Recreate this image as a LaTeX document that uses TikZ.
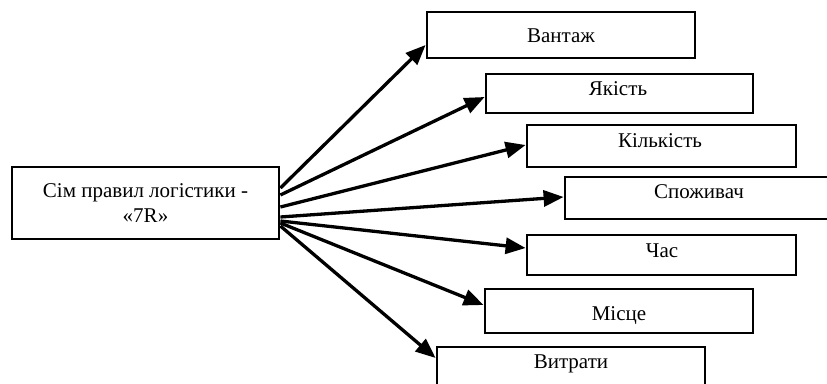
\documentclass[tikz,border=0pt]{standalone}
\usepackage{fontspec}
\setmainfont{Liberation Serif}
\usetikzlibrary{arrows.meta}
\begin{document}
\begin{tikzpicture}[x=1pt,y=-1pt,
  box/.style={draw, line width=2.8pt, rectangle, inner sep=0pt, minimum width=268pt},
  lbl/.style={anchor=base, inner sep=0pt, font=\fontsize{21}{25}\selectfont},
  link/.style={line width=3.3pt, -{Triangle[length=20pt,width=16pt]}}]
\useasboundingbox (0,0) rectangle (827,383);

% source box
\node[box, minimum width=267pt, minimum height=72pt, align=center,
      font=\fontsize{21}{25}\selectfont] (src) at (145.5,203)
      {Сім правил логістики -\\«7R»};

% target boxes
\node[box, minimum height=46pt] (b1) at (561,35) {};
\node[box, minimum width=267pt, minimum height=39pt] (b2) at (619.5,93.5) {};
\node[box, minimum width=269pt, minimum height=42pt] (b3) at (661.5,146) {};
\node[box, minimum height=42pt] (b4) at (699,198) {};
\node[box, minimum width=269pt, minimum height=40pt] (b5) at (661.5,255) {};
\node[box, minimum height=44pt] (b6) at (619,311) {};
\node[box, minimum height=44pt] (b7) at (571,369) {};

% labels
\node[lbl] (t1) at (561,42) {Вантаж};
\node[lbl] (t2) at (618,95) {Якість};
\node[lbl] (t3) at (660,147) {Кількість};
\node[lbl] (t4) at (699,198) {Споживач};
\node[lbl] (t5) at (662,257) {Час};
\node[lbl] (t6) at (619,320) {Місце};
\node[lbl] (t7) at (571,368) {Витрати};

% connectors
\draw[link] ([yshift=15pt]src.east) -- ([yshift=-10pt]b1.west);
\draw[link] ([yshift=8pt]src.east) -- ([yshift=-3.5pt]b2.west);
\draw[link] ([yshift=-4pt]src.east) -- ([yshift=1pt]b3.west);
\draw[link] ([yshift=-14pt]src.east) -- ([yshift=1pt]b4.west);
\draw[link] ([yshift=-18pt]src.east) -- ([yshift=7pt]b5.west);
\draw[link] ([yshift=-20pt]src.east) -- ([yshift=6pt]b6.west);
\draw[link] ([yshift=-23pt]src.east) -- ([yshift=11pt]b7.west);
\end{tikzpicture}
\end{document}
